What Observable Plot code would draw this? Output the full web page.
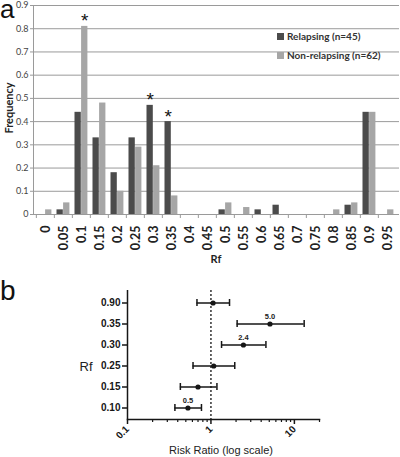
<!DOCTYPE html>
<html><head><meta charset="utf-8">
<script src="https://cdn.jsdelivr.net/npm/d3@7"></script>
<script src="https://cdn.jsdelivr.net/npm/@observablehq/plot@0.6"></script>
<style>
body{margin:0;background:#fff;}
#wrap{position:relative;width:400px;height:457px;overflow:hidden;background:#fff;}
#wrap svg{position:absolute;left:0;}
.t{position:absolute;white-space:nowrap;line-height:1;}
</style></head><body><div id="wrap"></div>
<script>
// ---- Panel a data ----
const rfCategories = ["0","0.05","0.1","0.15","0.2","0.25","0.3","0.35","0.4","0.45","0.5","0.55","0.6","0.65","0.7","0.75","0.8","0.85","0.9","0.95"];
const seriesNames = ["Relapsing (n=45)", "Non-relapsing (n=62)"];
const relapsing    = [0, 0.02, 0.44, 0.33, 0.18, 0.33, 0.47, 0.40, 0, 0, 0.02, 0, 0.02, 0.04, 0, 0, 0, 0.04, 0.44, 0];
const nonRelapsing = [0.02, 0.05, 0.81, 0.48, 0.10, 0.29, 0.21, 0.08, 0, 0, 0.05, 0.03, 0, 0, 0, 0, 0.02, 0.05, 0.44, 0.02];
const freqTicks = [0, 0.1, 0.2, 0.3, 0.4, 0.5, 0.6, 0.7, 0.8, 0.9];
const starRelapsing = ["0.3", "0.35"];
const starNonRelapsing = ["0.1"];

// ---- Panel b data ----
const rrRows     = ["0.90", "0.35", "0.30", "0.25", "0.15", "0.10"];
const rrEstimate = [1.06, 5.1, 2.45, 1.08, 0.70, 0.53];
const rrLower    = [0.68, 2.06, 1.34, 0.61, 0.43, 0.37];
const rrUpper    = [1.67, 13.1, 4.56, 1.93, 1.18, 0.77];
const rrLabels   = ["", "5.0", "2.4", "", "", "0.5"];
const rrMajorTicks = [0.1, 1, 10];
const rrMinorTicks = [0.2, 0.3, 0.4, 0.5, 0.6, 0.7, 0.8, 0.9, 2, 3, 4, 5, 6, 7, 8, 9, 20];

const dark = "#4b4b4b", light = "#a6a6a6";
const wrap = document.getElementById("wrap");

const relData = rfCategories.map((c, i) => ({rf: c, series: seriesNames[0], value: relapsing[i]}));
const nonData = rfCategories.map((c, i) => ({rf: c, series: seriesNames[1], value: nonRelapsing[i]}));

const bandW = (400 - 33 - 1) / rfCategories.length;

const chartA = Plot.plot({
  width: 400, height: 268,
  marginTop: 5, marginLeft: 33, marginRight: 1, marginBottom: 54,
  style: {fontFamily: "Lato, sans-serif", background: "transparent", overflow: "visible"},
  x: {type: "band", domain: rfCategories, padding: 0},
  y: {domain: [0, 0.9]},
  marks: [
    Plot.gridY(freqTicks, {stroke: "#9a9a9a", strokeOpacity: 1}),
    Plot.barY(relData, {x: "rf", y: "value", fill: dark, insetLeft: 2.5, insetRight: bandW - 9.1}),
    Plot.barY(nonData, {x: "rf", y: "value", fill: light, insetLeft: 9.1, insetRight: bandW - 15.7}),
    Plot.text(relData.filter(d => starRelapsing.includes(d.rf)), {x: "rf", y: "value", text: () => "*", dx: -bandW / 2 + 5.8, dy: 1, lineAnchor: "bottom", fontFamily: "'Liberation Sans', Arial, sans-serif", fontSize: 19, fill: "#111"}),
    Plot.text(nonData.filter(d => starNonRelapsing.includes(d.rf)), {x: "rf", y: "value", text: () => "*", dx: -bandW / 2 + 12.4, dy: 1, lineAnchor: "bottom", fontFamily: "'Liberation Sans', Arial, sans-serif", fontSize: 19, fill: "#111"}),
    Plot.ruleY([0], {stroke: "#9a9a9a"}),
    Plot.frame({anchor: "left", stroke: "#9a9a9a"}),
    Plot.axisY({ticks: freqTicks, tickSize: 3, tickPadding: 2, stroke: "#9a9a9a", fill: "#444", fontSize: 9, label: null, tickFormat: d => String(d)}),
    Plot.axisX({tickSize: 4, dx: -bandW / 2, stroke: "#9a9a9a", tickFormat: () => "", label: null}),
    Plot.axisX({tickSize: 0, tickPadding: 11, tickRotate: -90, fontSize: 12.5, fontWeight: "bold", fill: "#222", label: null})
  ]
});
chartA.style.top = "0px";
wrap.appendChild(chartA);

const rrData = rrRows.map((r, i) => ({rf: r, est: rrEstimate[i], lo: rrLower[i], hi: rrUpper[i], label: rrLabels[i]}));
const ink = "#161616";

const chartB = Plot.plot({
  width: 400, height: 187,
  marginTop: 20, marginBottom: 38, marginLeft: 127, marginRight: 81,
  style: {fontFamily: "'Liberation Sans', Arial, sans-serif", background: "transparent", overflow: "visible", color: ink},
  x: {type: "log", domain: [0.1, 20]},
  y: {type: "band", domain: rrRows, paddingInner: 0.67, paddingOuter: 0.386},
  marks: [
    Plot.ruleX([1], {stroke: "#333", strokeWidth: 1.5, strokeDasharray: "2,2"}),
    Plot.ruleY(rrData, {y: "rf", x1: "lo", x2: "hi", stroke: ink, strokeWidth: 1.5}),
    Plot.tickX(rrData, {x: "lo", y: "rf", stroke: ink, strokeWidth: 1.5}),
    Plot.tickX(rrData, {x: "hi", y: "rf", stroke: ink, strokeWidth: 1.5}),
    Plot.dot(rrData, {x: "est", y: "rf", r: 2.6, fill: ink, stroke: "none"}),
    Plot.text(rrData.filter(d => d.label), {x: "est", y: "rf", text: "label", dy: -7, fontSize: 7.5, fontWeight: "bold", fill: "#222"}),
    Plot.ruleX([0.1], {stroke: ink, strokeWidth: 1.5}),
    Plot.frame({anchor: "bottom", stroke: ink, strokeWidth: 1.5}),
    Plot.axisY({tickSize: 5, tickPadding: 2, fontSize: 10, fontWeight: "bold", strokeWidth: 1.5, label: null}),
    Plot.axisX({ticks: rrMinorTicks, tickSize: 3, strokeWidth: 1.2, tickFormat: () => "", label: null}),
    Plot.axisX({ticks: rrMajorTicks, tickSize: 5, tickPadding: 3, strokeWidth: 1.5, tickRotate: -45, fontSize: 10, fontWeight: "bold", tickFormat: d => String(d), label: null})
  ]
});
chartB.style.top = "270px";
wrap.appendChild(chartB);

// ---- Titles, labels and legend ----
function addText(txt, css) {
  const d = document.createElement("div");
  d.className = "t";
  d.textContent = txt;
  Object.assign(d.style, css);
  wrap.appendChild(d);
  return d;
}
addText("a", {left: "0px", top: "0px", lineHeight: "18px", fontFamily: "'Liberation Sans', Arial, sans-serif", fontSize: "26px", color: "#111"});
addText("Frequency", {left: "8px", top: "108px", fontFamily: "Lato, sans-serif", fontWeight: "bold", fontSize: "11px", color: "#222", transform: "translate(-50%,-50%) rotate(-90deg)"});
addText("Rf", {left: "216px", top: "258px", fontFamily: "Lato, sans-serif", fontWeight: "bold", fontSize: "11px", color: "#222", transform: "translate(-50%,-50%)"});

const legendColors = [dark, light];
seriesNames.forEach((name, i) => {
  const row = document.createElement("div");
  row.className = "t";
  Object.assign(row.style, {left: "277px", top: (i === 0 ? 31 : 50) + "px", fontFamily: "Lato, sans-serif", fontWeight: "bold", fontSize: "10px", color: "#333", display: "flex", alignItems: "center"});
  const sw = document.createElement("span");
  Object.assign(sw.style, {display: "inline-block", width: "7px", height: "7px", background: legendColors[i], marginRight: "3px"});
  row.appendChild(sw);
  row.appendChild(document.createTextNode(name));
  wrap.appendChild(row);
});

addText("b", {left: "0px", top: "277px", fontFamily: "'Liberation Sans', Arial, sans-serif", fontSize: "28px", color: "#111"});
addText("Rf", {left: "86px", top: "366px", fontFamily: "'Liberation Sans', Arial, sans-serif", fontSize: "13px", color: "#222", transform: "translate(-50%,-50%)"});
addText("Risk Ratio (log scale)", {left: "221px", top: "450px", fontFamily: "'Liberation Sans', Arial, sans-serif", fontSize: "11px", color: "#222", transform: "translate(-50%,-50%)"});
</script>
</body></html>
